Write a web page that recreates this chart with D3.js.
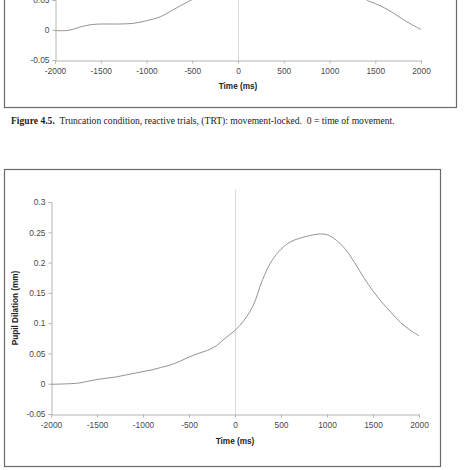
<!DOCTYPE html>
<html>
<head>
<meta charset="utf-8">
<script src="https://cdn.jsdelivr.net/npm/d3@7"></script>
<style>
  body { margin: 0; background: #fff; }
  svg { display: block; }
  .tick text { font-family: "Liberation Sans", Arial, sans-serif; font-size: 8.4px; fill: #4a4a4a; }
  .axisTitle { font-family: "Liberation Sans", Arial, sans-serif; font-size: 8.2px; font-weight: bold; fill: #222; }
  .caption { font-family: "Liberation Serif", "Times New Roman", serif; font-size: 9.6px; fill: #222; }
</style>
</head>
<body>
<svg id="page" width="474" height="470"></svg>
<script>
// upper chart (figure 4.5, only its lower part is on the page)
var topTimes  = [-2000, -1850, -1700, -1600, -1500, -1400, -1300, -1150, -1000, -850, -700, -560, -500, -400, -200, 0, 300, 600, 900, 1200, 1400, 1500, 1600, 1700, 1800, 1900, 2000];
var topValues = [-0.001, -0.0005, 0.006, 0.009, 0.010, 0.010, 0.010, 0.011, 0.0155, 0.022, 0.0345, 0.046, 0.051, 0.062, 0.09, 0.13, 0.17, 0.18, 0.16, 0.09, 0.051, 0.044, 0.037, 0.028, 0.018, 0.009, 0.001];

// lower chart (the full one)
var times  = [-2000, -1800, -1700, -1600, -1500, -1400, -1300, -1200, -1100, -1000, -900, -800, -700, -600, -500, -400, -300, -200, -100, 0, 100, 200, 300, 400, 500, 600, 700, 800, 900, 1000, 1100, 1200, 1300, 1400, 1500, 1600, 1700, 1800, 1900, 2000];
var values = [-0.001, 0.000, 0.001, 0.004, 0.007, 0.009, 0.011, 0.014, 0.017, 0.020, 0.023, 0.027, 0.031, 0.037, 0.044, 0.050, 0.055, 0.063, 0.076, 0.088, 0.105, 0.130, 0.172, 0.203, 0.222, 0.234, 0.240, 0.244, 0.247, 0.246, 0.237, 0.222, 0.200, 0.175, 0.153, 0.134, 0.117, 0.101, 0.089, 0.079];

var xTicks = [-2000, -1500, -1000, -500, 0, 500, 1000, 1500, 2000];
var yTicksTop = [-0.05, 0, 0.05];
var yTicks = [-0.05, 0, 0.05, 0.1, 0.15, 0.2, 0.25, 0.3];

var captionBold = "Figure 4.5.";
var captionText = "  Truncation condition, reactive trials, (TRT): movement-locked.  0 = time of movement.";

var svg = d3.select("#page");

// plain hyphen for negatives, like the original
function fmt(d) { return String(+d.toFixed(2)); }

function drawChart(opt, ts, vs, yt) {
    var g = svg.append("g");

    // outer frame
    g.append("rect")
        .attr("x", opt.box[0] + 0.5)
        .attr("y", opt.box[1] + 0.5)
        .attr("width", opt.box[2] - opt.box[0])
        .attr("height", opt.box[3] - opt.box[1])
        .attr("fill", "#fff")
        .attr("stroke", "#6a6a6a")
        .attr("stroke-width", 1.2);

    var xScale = d3.scaleLinear().domain([-2000, 2000]).range([opt.x0, opt.x1]);
    var yScale = d3.scaleLinear().domain(opt.yDomain).range([opt.yBottom, opt.yTop]);

    // movement marker at 0
    g.append("line")
        .attr("x1", xScale(0) + 0.5).attr("x2", xScale(0) + 0.5)
        .attr("y1", yScale(opt.markerTop)).attr("y2", yScale(opt.yDomain[0]))
        .attr("stroke", "#dadada")
        .attr("stroke-width", 1);

    var xAxis = g.append("g")
        .attr("transform", "translate(0," + (yScale(opt.yDomain[0]) + 0.5) + ")")
        .call(d3.axisBottom(xScale).tickValues(xTicks).tickSize(3).tickPadding(5).tickFormat(fmt));
    var yAxis = g.append("g")
        .attr("transform", "translate(" + (opt.x0 + 0.5) + ",0)")
        .call(d3.axisLeft(yScale).tickValues(yt).tickSize(3).tickPadding(3).tickFormat(fmt));
    [xAxis, yAxis].forEach(function (a) {
        a.select(".domain").attr("stroke", "#b4b4b4");
        a.selectAll(".tick line").attr("stroke", "#b4b4b4");
    });
    yAxis.selectAll(".tick text").attr("dy", "0.33em");

    var line = d3.line()
        .x(function (d, i) { return xScale(ts[i]); })
        .y(function (d) { return yScale(d); })
        .curve(d3.curveCatmullRom);

    g.append("path")
        .datum(vs)
        .attr("d", line)
        .attr("fill", "none")
        .attr("stroke", "#939393")
        .attr("stroke-width", 1);

    g.append("text")
        .attr("class", "axisTitle")
        .attr("x", xScale(0))
        .attr("y", opt.xTitleY)
        .attr("text-anchor", "middle")
        .text("Time (ms)");

    if (opt.yTitleX) {
        g.append("text")
            .attr("class", "axisTitle")
            .attr("transform", "translate(" + opt.yTitleX + "," + ((opt.yTop + opt.yBottom) / 2) + ") rotate(-90)")
            .attr("text-anchor", "middle")
            .text("Pupil Dilation (mm)");
    }
}

// top chart: y range above 0.05 is off the page
drawChart({
    box: [4, -20, 456, 107],
    x0: 55, x1: 421,
    yDomain: [-0.05, 0.05], yBottom: 60, yTop: 0,
    markerTop: 0.1,
    xTitleY: 89
}, topTimes, topValues, yTicksTop);

var cap = svg.append("text").attr("class", "caption").attr("x", 11).attr("y", 124).attr("xml:space", "preserve");
cap.append("tspan").attr("font-weight", "bold").text(captionBold);
cap.append("tspan").text(captionText);

drawChart({
    box: [4, 169, 440, 466],
    x0: 51, x1: 419,
    yDomain: [-0.05, 0.3], yBottom: 414, yTop: 202,
    markerTop: 0.32,
    xTitleY: 443.5,
    yTitleX: 18
}, times, values, yTicks);
</script>
</body>
</html>
